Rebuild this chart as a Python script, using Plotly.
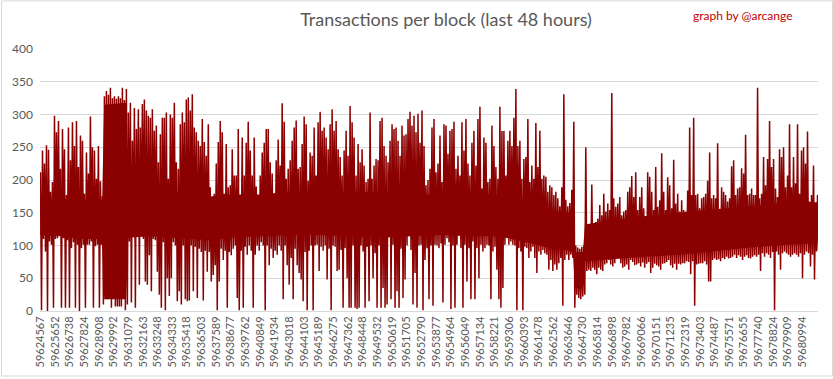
import plotly.graph_objects as go

# ---- data ----
first_block = 59624567
block_count = 57600  # 48 hours of blocks

block_labels = [59624567, 59625652, 59626738, 59627824, 59628908, 59629992, 59631079, 59632163,
                59633248, 59634333, 59635418, 59636503, 59637589, 59638677, 59639762, 59640849,
                59641934, 59643018, 59644103, 59645189, 59646275, 59647362, 59648448, 59649532,
                59650619, 59651705, 59652790, 59653877, 59654964, 59656049, 59657134, 59658221,
                59659306, 59660393, 59661478, 59662562, 59663646, 59664730, 59665814, 59666898,
                59667982, 59669066, 59670151, 59671235, 59672319, 59673403, 59674487, 59675571,
                59676655, 59677740, 59678824, 59679909, 59680994]

# highest transactions-per-block seen in each slice of the chart (read slice by slice)
column_max_tx = [
    212, 245, 225, 253, 246, 182, 197, 298, 273, 290, 217, 278, 247, 177, 280, 230, 288, 252, 290, 220,
    268, 260, 179, 242, 210, 297, 250, 245, 202, 252, 198, 175,
    328, 336, 330, 341, 325, 328, 324, 328, 325, 341, 322, 339,
    303, 318, 260, 310, 278, 308, 280, 316, 323, 306, 298, 295, 308, 275, 283, 227, 270, 295, 295, 303,
    202, 300, 295, 318, 227, 217, 285, 303, 288, 323, 326, 306, 331, 280, 273, 260, 252, 293, 258, 237,
    285, 189, 174, 179, 225, 258, 290, 273, 179, 255, 189, 192,
    247, 207, 207, 278, 162, 265, 207, 257, 289, 245, 207, 265, 190, 167, 207, 242, 257, 278, 278, 227,
    210, 172, 230, 262, 222, 317, 289, 202, 217, 230, 260, 280, 291, 217, 220, 255, 297, 285, 199, 242,
    237, 280, 207, 288, 304, 275, 280, 265, 247, 285, 308, 275, 290, 247, 235, 207, 245, 275, 237, 313,
    288, 265, 207, 255, 227, 247, 222, 197, 202, 303, 202, 222, 232, 230, 290, 295, 252, 237, 227, 260,
    285, 278, 280, 260, 237, 283, 268, 270, 293, 304, 283, 298, 273, 301, 257,
    306, 252, 192, 200, 217, 280, 293, 212, 225, 268, 197, 285, 283, 240, 275, 278, 289, 217, 237, 207,
    288, 245, 293, 225, 207, 257, 275, 222, 293, 312, 187, 265, 257, 197, 202, 283, 252, 220, 202, 312,
    275, 275, 207, 260, 275, 252, 295, 339, 252, 260, 202, 232, 235, 293, 197, 222, 202, 287, 220, 275,
    202, 207, 205, 182, 192, 189, 177, 182, 172, 160, 189, 331, 170, 160, 165, 185, 289, 100, 97, 95,
    98, 100, 250, 120, 120, 193, 121, 136, 141, 162, 146, 179, 152, 164, 154, 333, 172, 159, 164, 174,
    146, 152, 154, 182, 189, 206, 174, 212, 154, 174, 189, 157, 136, 212, 205, 182, 154, 220, 159, 169,
    241, 182, 154, 204, 192, 157, 231, 164, 179, 152, 169, 154, 152, 184, 280, 177, 295, 177, 179, 157,
    172, 174, 179, 199, 242, 172, 177, 172, 256, 152, 189, 182, 177, 167, 172, 221, 230, 177, 187, 189,
    218, 210, 269, 177, 179, 187, 177, 177, 341, 172, 179, 235, 192, 232, 290, 220, 232, 187, 174, 247,
    235, 250, 189, 207, 285, 189, 235, 195, 285, 179, 245, 250, 225, 274, 167, 177, 222, 164, 177,
]

# lowest transactions-per-block seen in each slice of the chart
column_min_tx = [
    1, 110, 91, 0, 106, 101, 5, 110, 111, 115, 5, 111, 5, 108, 5, 96, 105, 5, 101, 0,
    96, 101, 5, 101, 101, 106, 5, 99, 101, 5, 101, 10,
    38, 18, 25, 5, 20, 7, 7, 7, 7, 25, 1, 10,
    106, 13, 120, 5, 115, 40, 118, 110, 45, 40, 85, 30, 110, 108, 60, 25, 5, 105, 1, 50,
    23, 50, 105, 100, 15, 30, 10, 100, 18, 15, 16, 100, 30, 98, 20, 95, 90, 16, 92, 60,
    90, 45, 55, 70, 1, 45, 95, 78, 92, 5, 90, 85,
    95, 100, 20, 1, 92, 5, 98, 86, 100, 92, 5, 86, 100, 92, 105, 100, 1, 100, 70, 95,
    81, 92, 86, 100, 92, 18, 100, 70, 40, 81, 18, 95, 70, 58, 48, 15, 90, 1, 92, 100,
    1, 100, 101, 61, 98, 92, 100, 48, 95, 1, 100, 98, 61, 63, 93, 5, 96, 50, 5, 5,
    100, 5, 3, 5, 100, 91, 5, 98, 15, 100, 50, 88, 5, 100, 5, 35, 5, 10, 115, 18,
    101, 5, 30, 5, 95, 20, 48, 100, 116, 93, 10, 58, 5, 100, 101,
    1, 78, 96, 18, 100, 8, 101, 100, 96, 103, 13, 101, 111, 105, 3, 100, 5, 101, 116, 96,
    5, 101, 45, 96, 18, 106, 18, 96, 50, 101, 91, 96, 101, 100, 18, 91, 98, 63, 18, 5,
    35, 101, 116, 101, 106, 101, 100, 1, 96, 91, 1, 98, 96, 81, 91, 98, 81, 58, 91, 86,
    93, 88, 86, 63, 78, 61, 71, 63, 73, 81, 8, 78, 86, 78, 86, 81, 5, 25, 20, 18,
    22, 25, 61, 63, 61, 66, 63, 56, 66, 63, 61, 71, 73, 78, 71, 68, 73, 80, 81, 73,
    66, 68, 71, 63, 78, 75, 70, 71, 73, 68, 74, 66, 72, 75, 58, 66, 72, 70, 68, 63,
    72, 73, 75, 78, 70, 66, 72, 63, 72, 71, 73, 73, 76, 75, 56, 76, 8, 71, 72, 73,
    73, 76, 71, 45, 45, 78, 80, 78, 79, 76, 81, 79, 83, 80, 81, 83, 86, 81, 85, 83,
    78, 83, 85, 81, 80, 83, 85, 83, 86, 61, 88, 83, 88, 86, 81, 90, 1, 91, 86, 63,
    88, 91, 88, 86, 83, 86, 88, 86, 83, 88, 50, 86, 91, 88, 68, 86, 48, 91, 93,
]

# inner solid band where nearly every block falls (edges read at these blocks)
core_blocks = [59624567, 59626044, 59627521, 59629145, 59629293, 59630918, 59631065, 59632690,
               59634167, 59635644, 59637121, 59638598, 59640813, 59643028, 59645244, 59647459,
               59649674, 59651890, 59654105, 59656320, 59658536, 59660751, 59662228, 59663705,
               59664000, 59664148, 59664739, 59664887, 59666659, 59668874, 59671828, 59674782,
               59677736, 59679951, 59682100]
core_top_tx = [168, 172, 168, 170, 315, 318, 180, 182, 184, 180, 175, 178, 178, 182, 182, 180,
               182, 178, 178, 180, 178, 172, 155, 150, 140, 90, 90, 132, 138, 144, 150, 155,
               162, 166, 166]
core_bottom_tx = [116, 114, 110, 110, 18, 18, 112, 114, 112, 110, 108, 112, 114, 116, 116, 114,
                  112, 114, 116, 114, 114, 104, 96, 92, 88, 35, 35, 76, 79, 82, 86, 92,
                  98, 101, 103]

assert len(column_max_tx) == len(column_min_tx), (len(column_max_tx), len(column_min_tx))
assert len(core_blocks) == len(core_top_tx) == len(core_bottom_tx)

# ---- geometry ----
W, H = 833, 379
L, R, T, B = 39, 15, 49, 66
pw, ph = W - L - R, H - T - B
x_start = first_block - 25
x_end = x_start + block_count
blocks_per_px = (x_end - x_start) / pw

GRID = "#d9d9d9"
TXT = "#595959"
RED = "#8b0000"
FONT = "Lato, Carlito, 'Liberation Sans', sans-serif"

# each slice spans two pixel columns: the line visits its max, then its min
lx, ly = [], []
for i, (hi, lo) in enumerate(zip(column_max_tx, column_min_tx)):
    lx.append(x_start + (2 * i + 0.5) * blocks_per_px)
    ly.append(hi)
    lx.append(x_start + (2 * i + 1.5) * blocks_per_px)
    ly.append(lo)

fig = go.Figure()
fig.add_trace(go.Scatter(
    x=core_blocks + core_blocks[::-1],
    y=core_top_tx + core_bottom_tx[::-1],
    mode="lines", fill="toself", fillcolor=RED,
    line=dict(color=RED, width=0),
    hoverinfo="skip", showlegend=False,
))
fig.add_trace(go.Scatter(
    x=lx, y=ly, mode="lines",
    line=dict(color=RED, width=1.5),
    hoverinfo="skip", showlegend=False,
))

fig.update_layout(
    width=W, height=H,
    margin=dict(l=L, r=R, t=T, b=B),
    paper_bgcolor="white", plot_bgcolor="white",
    font=dict(family=FONT, color=TXT),
    hovermode=False,
    title=dict(text="Transactions per block (last 48 hours)",
               x=446 / W, xanchor="center", xref="container",
               y=1 - 20 / H, yanchor="middle", yref="container",
               font=dict(family=FONT, size=18, color=TXT)),
    xaxis=dict(range=[x_start, x_end],
               tickmode="array", tickvals=block_labels,
               ticktext=[str(b) for b in block_labels],
               tickangle=-90, tickfont=dict(size=11, color=TXT),
               showgrid=False, zeroline=False,
               showline=True, linecolor=GRID, linewidth=1, ticks=""),
    yaxis=dict(range=[0, 400], dtick=50, tick0=0,
               showgrid=True, gridcolor=GRID, gridwidth=1,
               zeroline=False, showline=False, ticks="",
               tickfont=dict(size=12, color=TXT), ticklabelstandoff=6),
)

fig.add_annotation(text="graph by @arcange", xref="paper", yref="paper",
                   x=(743 - L) / pw, y=(H - B - 15) / ph,
                   xanchor="center", yanchor="middle", showarrow=False,
                   font=dict(family=FONT, size=12, color="#c00000"))

fig.add_shape(type="rect", xref="paper", yref="paper",
              x0=(0.5 - L) / pw, x1=(W - 0.5 - L) / pw,
              y0=(H - B - (H - 0.5)) / ph, y1=(H - B - 0.5) / ph,
              line=dict(color=GRID, width=1), fillcolor="rgba(0,0,0,0)", layer="below")

fig.write_html("out.html",
               config={"displayModeBar": False, "staticPlot": True},
               post_script="document.body.style.margin='0';document.body.style.overflow='hidden';")
